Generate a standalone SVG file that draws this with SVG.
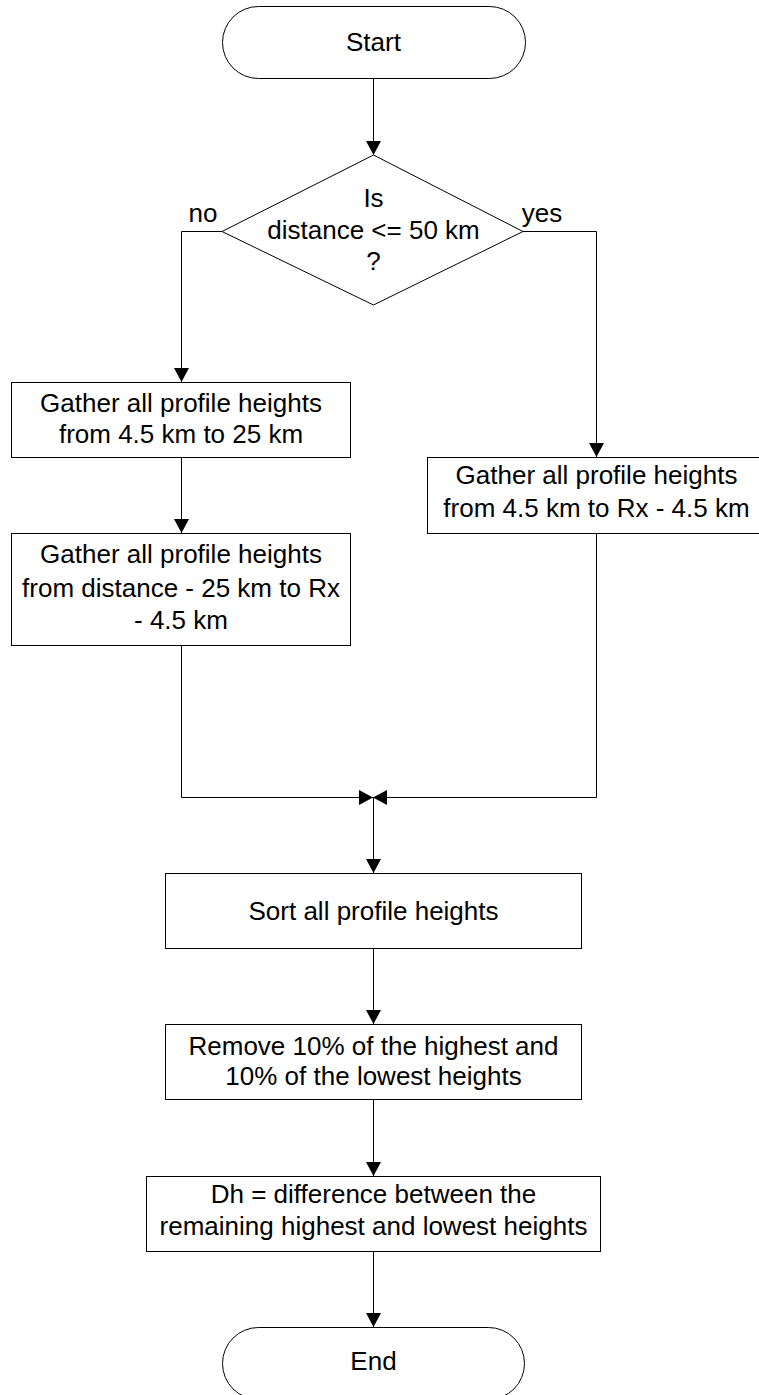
<svg xmlns="http://www.w3.org/2000/svg" width="759" height="1395" viewBox="0 0 759 1395">
<style>
.shape{fill:#fff;stroke:#000;stroke-width:1}
.conn{fill:none;stroke:#000;stroke-width:1}
text{font-family:"Liberation Sans",Arial,sans-serif;font-size:26px;fill:#000;text-anchor:middle}
</style>
<defs>
<marker id="arr" markerUnits="userSpaceOnUse" markerWidth="15" markerHeight="15" refX="14" refY="7.5" orient="auto">
<path d="M0,0 L14,7.5 L0,15 z" fill="#000"/>
</marker>
</defs>
<rect width="759" height="1395" fill="#fff"/>
<g id="connectors">
<path class="conn" d="M373.5,78 V155" marker-end="url(#arr)"/>
<path class="conn" d="M222,231.5 H181.5 V382" marker-end="url(#arr)"/>
<path class="conn" d="M523,231.5 H596.5 V457" marker-end="url(#arr)"/>
<path class="conn" d="M181.5,457 V533" marker-end="url(#arr)"/>
<path class="conn" d="M181.5,645 V797.5 H373" marker-end="url(#arr)"/>
<path class="conn" d="M596.5,533 V797.5 H373" marker-end="url(#arr)"/>
<path class="conn" d="M373.5,797.5 V873" marker-end="url(#arr)"/>
<path class="conn" d="M373.5,948 V1024" marker-end="url(#arr)"/>
<path class="conn" d="M373.5,1099 V1176" marker-end="url(#arr)"/>
<path class="conn" d="M373.5,1251 V1327" marker-end="url(#arr)"/>
</g>
<g id="start">
<rect class="shape" x="222.5" y="6.5" width="303" height="72" rx="36" ry="36"/>
<text x="373.5" y="51">Start</text>
</g>
<g id="decision">
<path class="shape" d="M373.5,155 L523,231.5 L373.5,305 L222,231.5 Z"/>
<text x="373.5" y="207">Is</text>
<text x="373.5" y="239">distance &lt;= 50 km</text>
<text x="373.5" y="270">?</text>
<text x="203" y="222">no</text>
<text x="542" y="222">yes</text>
</g>
<g id="gather1">
<rect class="shape" x="11.5" y="382.5" width="339" height="75"/>
<text x="181" y="412">Gather all profile heights</text>
<text x="181" y="443">from 4.5 km to 25 km</text>
</g>
<g id="gather2">
<rect class="shape" x="11.5" y="533.5" width="339" height="112"/>
<text x="181" y="563">Gather all profile heights</text>
<text x="181" y="597">from distance - 25 km to Rx</text>
<text x="181" y="629">- 4.5 km</text>
</g>
<g id="gather3">
<rect class="shape" x="427.5" y="457.5" width="338" height="76"/>
<text x="596.5" y="484">Gather all profile heights</text>
<text x="596.5" y="517">from 4.5 km to Rx - 4.5 km</text>
</g>
<g id="sort">
<rect class="shape" x="165.5" y="873.5" width="416" height="75"/>
<text x="373.5" y="920">Sort all profile heights</text>
</g>
<g id="remove">
<rect class="shape" x="165.5" y="1024.5" width="416" height="75"/>
<text x="373.5" y="1055">Remove 10% of the highest and</text>
<text x="373.5" y="1085">10% of the lowest heights</text>
</g>
<g id="dh">
<rect class="shape" x="146.5" y="1176.5" width="454" height="75"/>
<text x="373.5" y="1203">Dh = difference between the</text>
<text x="373.5" y="1235">remaining highest and lowest heights</text>
</g>
<g id="end">
<rect class="shape" x="222.5" y="1327.5" width="302" height="72" rx="36" ry="36"/>
<text x="373.5" y="1370">End</text>
</g>
</svg>
